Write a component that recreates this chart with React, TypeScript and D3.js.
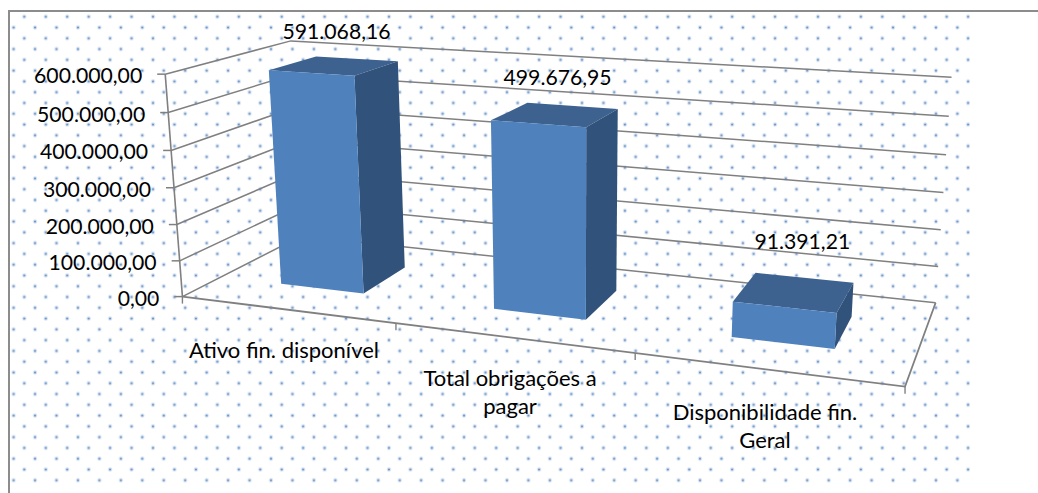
import React from "react";
import * as d3 from "d3";

const categories = ["Ativo fin. disponível", "Total obrigações a pagar", "Disponibilidade fin. Geral"];
const categoryLines = [["Ativo fin. disponível"], ["Total obrigações a", "pagar"], ["Disponibilidade fin.", "Geral"]];
const values = [591068.16, 499676.95, 91391.21];
const valueLabels = ["591.068,16", "499.676,95", "91.391,21"];
const yTicks = [0, 100000, 200000, 300000, 400000, 500000, 600000];
const yTickLabels = ["0,00", "100.000,00", "200.000,00", "300.000,00", "400.000,00", "500.000,00", "600.000,00"];

const W = 1038, H = 493;
const FONT = "Lato, 'Open Sans', sans-serif";
const FS_NUM = 21.2;
const FS_CAT = 22;
const GRID = "#808080";
const FRONT = "#4F81BD", TOP = "#3D628F", SIDE = "#31527B";

// calibration of the chart's 3D camera: (u, v, h) -> screen, from the box corners
const calib: [number, number, number, number, number][] = [
  [0, 0, 0, 181.7, 296.7],
  [0, 1, 0, 302, 236],
  [1, 1, 0, 935.5, 302.7],
  [1, 0, 0, 905, 386.7],
  [0, 0, 1, 166, 74],
  [0, 1, 1, 290, 41],
  [1, 1, 1, 951.7, 77.3],
];

function solveCamera(pts: typeof calib) {
  const rows: number[][] = [];
  const rhs: number[] = [];
  pts.forEach(([u, v, h, x, y]) => {
    rows.push([u, v, h, 1, 0, 0, 0, 0, -x * u, -x * v, -x * h]); rhs.push(x);
    rows.push([0, 0, 0, 0, u, v, h, 1, -y * u, -y * v, -y * h]); rhs.push(y);
  });
  const n = 11;
  const A = d3.range(n).map((i) => [
    ...d3.range(n).map((j) => d3.sum(rows, (r) => r[i] * r[j])),
    d3.sum(rows, (r, k) => r[i] * rhs[k]),
  ]);
  for (let c = 0; c < n; c++) {
    let p = c;
    for (let r = c + 1; r < n; r++) if (Math.abs(A[r][c]) > Math.abs(A[p][c])) p = r;
    [A[c], A[p]] = [A[p], A[c]];
    for (let r = 0; r < n; r++) {
      if (r === c) continue;
      const f = A[r][c] / A[c][c];
      for (let k = c; k <= n; k++) A[r][k] -= f * A[c][k];
    }
  }
  return A.map((r, i) => r[n] / r[i]);
}
const m = solveCamera(calib);
const project = (u: number, v: number, h: number): [number, number] => {
  const w = m[8] * u + m[9] * v + m[10] * h + 1;
  return [(m[0] * u + m[1] * v + m[2] * h + m[3]) / w, (m[4] * u + m[5] * v + m[6] * h + m[7]) / w];
};

const hScale = d3.scaleLinear().domain([0, 600000]).range([0, 1]);
const uScale = d3.scaleBand<string>().domain(categories).range([0, 1]).paddingInner(0.6).paddingOuter(0.3);
const uEdge = d3.scalePoint<number>().domain([0, 1, 2, 3]).range([0, 1]);
const V0 = 0.3, V1 = 0.7;
const poly = d3.line().curve(d3.curveLinearClosed);
const open = d3.line();

const labelNudgeY = [-34, -37, -50];
const labelNudgeX = [2, 2, 8];
const catLabelPos: [number, number][] = [[284, 358], [510, 386], [765, 420]];

export default function App() {
  return (
    <svg width={W} height={H} style={{ position: "absolute", left: 0, top: 0, display: "block", background: "#fff" }} fontFamily={FONT}>
      <defs>
        <pattern id="dots" patternUnits="userSpaceOnUse" x={13.6} y={11.3} width={21.45} height={21.56}>
          {[[10.7, 5.4], [21.45, 16.2], [0, 16.2]].map(([cx, cy], i) => (
            <g key={i}>
              <circle cx={cx} cy={cy} r={2.2} fill={FRONT} opacity={0.22} />
              <circle cx={cx} cy={cy} r={1.1} fill={FRONT} opacity={0.8} />
            </g>
          ))}
        </pattern>
      </defs>
      <rect x={10} y={12} width={960} height={473} fill="url(#dots)" />
      <line x1={8} y1={11} x2={W} y2={11} stroke="#8c8c8c" strokeWidth={2} />
      <line x1={9} y1={10} x2={9} y2={H} stroke="#8c8c8c" strokeWidth={2} />

      {yTicks.map((t, i) => {
        const h = hScale(t);
        const a = project(0, 0, h);
        return (
          <g key={t}>
            <path d={open([a, project(0, 1, h), project(1, 1, h)])!} fill="none" stroke={GRID} strokeWidth={1.5} />
            <line x1={a[0] - 8} y1={a[1]} x2={a[0]} y2={a[1]} stroke={GRID} strokeWidth={1.5} />
            <text x={a[0] - 23} y={a[1] + 9} textAnchor="end" fontSize={FS_NUM} fill="#000">{yTickLabels[i]}</text>
          </g>
        );
      })}
      <path d={open([project(0, 0, 0), project(0, 0, 1)])!} fill="none" stroke={GRID} strokeWidth={1.6} />
      <path d={open([project(0, 0, 0), project(1, 0, 0), project(1, 1, 0)])!} fill="none" stroke={GRID} strokeWidth={1.8} />
      {uEdge.domain().map((d) => {
        const p = project(uEdge(d)!, 0, 0);
        return <line key={d} x1={p[0]} y1={p[1]} x2={p[0]} y2={p[1] + 7} stroke={GRID} strokeWidth={1.4} />;
      })}

      {categories.map((c, i) => {
        const u0 = uScale(c)!, u1 = u0 + uScale.bandwidth();
        const h = hScale(values[i]);
        const topMid = project((u0 + u1) / 2, (V0 + V1) / 2, h);
        return (
          <g key={c}>
            <path d={poly([project(u0, V1, h), project(u1, V1, h), project(u1, V0, h), project(u0, V0, h)])!} fill={TOP} />
            <path d={poly([project(u1, V0, 0), project(u1, V1, 0), project(u1, V1, h), project(u1, V0, h)])!} fill={SIDE} />
            <path d={poly([project(u0, V0, 0), project(u1, V0, 0), project(u1, V0, h), project(u0, V0, h)])!} fill={FRONT} />
            <text x={topMid[0] + labelNudgeX[i]} y={topMid[1] + labelNudgeY[i] + 7} textAnchor="middle" fontSize={FS_NUM} fill="#000">{valueLabels[i]}</text>
            <text textAnchor="middle" fontSize={FS_CAT} fill="#000">
              {categoryLines[i].map((l, k) => (
                <tspan key={k} x={catLabelPos[i][0]} y={catLabelPos[i][1] + k * 28}>{l}</tspan>
              ))}
            </text>
          </g>
        );
      })}
    </svg>
  );
}
